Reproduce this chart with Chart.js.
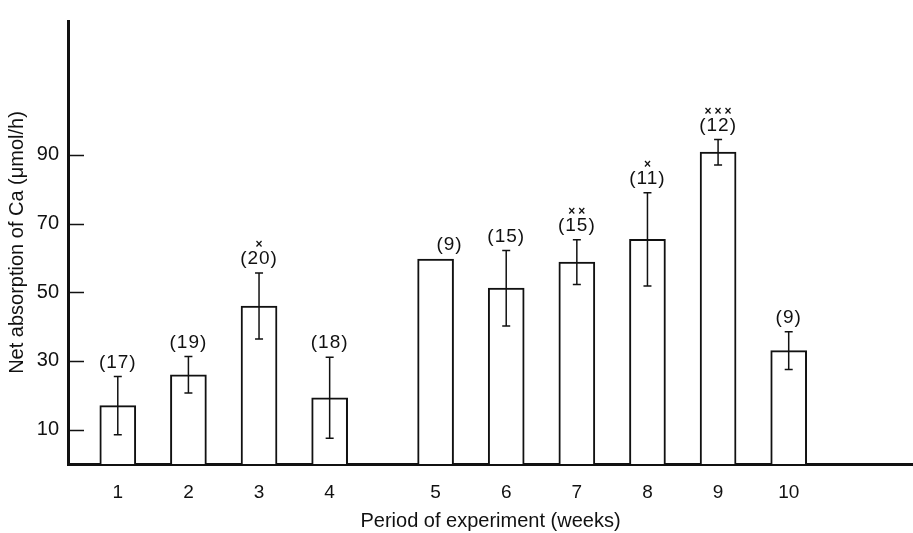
<!DOCTYPE html>
<html>
<head>
<meta charset="utf-8">
<script src="https://cdn.jsdelivr.net/npm/chart.js@4"></script>
<style>
  html, body { margin: 0; padding: 0; background: #fff; }
  #c { display: block; }
</style>
</head>
<body>
<canvas id="c" width="913" height="533"></canvas>
<script>
// ---- Data ----
const weeks = ['1', '2', '3', '4', '5', '6', '7', '8', '9', '10'];
const absorption = [17, 26, 46, 19.3, 59.7, 51.2, 58.8, 65.4, 90.8, 33];
const sem = [8.5, 5.3, 9.6, 11.8, 0, 11, 6.5, 13.6, 3.7, 5.5];
const nLabels = ['(17)', '(19)', '(20)', '(18)', '(9)', '(15)', '(15)', '(11)', '(12)', '(9)'];
const significance = ['', '', '×', '', '', '', '××', '×', '×××', ''];
const yTicks = [10, 30, 50, 70, 90];

// weeks 1-4 and 5-10 are separated by an extra half-slot gap
const xPos = weeks.map((w, i) => i < 4 ? i + 1 : i + 1.5);

const FONT = '"Liberation Sans", Arial, Helvetica, sans-serif';
const INK = '#111';

const annotPlugin = {
  id: 'annot',
  afterDatasetsDraw(chart) {
    const { ctx, scales: { y } } = chart;
    const meta = chart.getDatasetMeta(0);
    ctx.save();
    meta.data.forEach((bar, i) => {
      const cx = bar.x;
      const v = absorption[i], e = sem[i];
      let top = bar.y;
      if (e > 0) {
        const yt = y.getPixelForValue(v + e);
        const yb = y.getPixelForValue(v - e);
        ctx.strokeStyle = INK;
        ctx.lineWidth = 1.5;
        ctx.beginPath();
        ctx.moveTo(cx, yt); ctx.lineTo(cx, yb);
        ctx.moveTo(cx - 4, yt); ctx.lineTo(cx + 4, yt);
        ctx.moveTo(cx - 4, yb); ctx.lineTo(cx + 4, yb);
        ctx.stroke();
        top = yt;
      }
      const lx = e > 0 ? cx : cx + 14;
      ctx.fillStyle = INK;
      ctx.textAlign = 'center';
      ctx.textBaseline = 'middle';
      ctx.font = '19px ' + FONT;
      ctx.letterSpacing = '1px';
      const ly = top - 14;
      ctx.fillText(nLabels[i], lx, ly);
      ctx.letterSpacing = '0px';
      const s = significance[i];
      if (s) {
        ctx.font = 'bold 12px ' + FONT;
        const chars = Array.from(s);
        chars.forEach((ch, k) => {
          ctx.fillText(ch, lx + (k - (chars.length - 1) / 2) * 10, ly - 14);
        });
      }
    });
    ctx.restore();
  },
  afterDraw(chart) {
    const { ctx, chartArea, scales: { y } } = chart;
    ctx.save();
    ctx.strokeStyle = INK;
    ctx.lineWidth = 1.5;
    ctx.beginPath();
    yTicks.forEach(v => {
      const py = Math.round(y.getPixelForValue(v)) + 0.5;
      ctx.moveTo(chartArea.left, py);
      ctx.lineTo(chartArea.left + 16, py);
    });
    ctx.stroke();
    ctx.restore();
  }
};

new Chart(document.getElementById('c'), {
  type: 'bar',
  data: {
    datasets: [{
      data: weeks.map((w, i) => ({ x: xPos[i], y: absorption[i] })),
      backgroundColor: '#ffffff',
      borderColor: INK,
      borderWidth: 2,
      barThickness: 36
    }]
  },
  options: {
    responsive: false,
    devicePixelRatio: 1,
    animation: false,
    layout: { padding: { top: 7, right: 0, left: 0, bottom: 0 } },
    plugins: { legend: { display: false }, tooltip: { enabled: false } },
    scales: {
      x: {
        type: 'linear',
        offset: false,
        min: 0.295,
        max: 12.26,
        afterBuildTicks: (scale) => { scale.ticks = xPos.map(v => ({ value: v })); },
        afterFit: (scale) => { scale.height = 69; },
        grid: { display: true, offset: false, drawOnChartArea: false, drawTicks: false },
        border: { display: true, color: INK, width: 3 },
        ticks: {
          autoSkip: false,
          maxRotation: 0,
          padding: 17,
          color: INK,
          font: { family: FONT, size: 19 },
          callback: (value, index) => weeks[index]
        },
        title: {
          display: true,
          text: 'Period of experiment (weeks)',
          color: INK,
          font: { family: FONT, size: 20 },
          padding: { top: 0, bottom: 0 }
        }
      },
      y: {
        min: 0,
        max: 129,
        afterBuildTicks: (scale) => { scale.ticks = yTicks.map(v => ({ value: v })); },
        afterFit: (scale) => { scale.width = 68; },
        grid: { display: true, drawOnChartArea: false, drawTicks: false },
        border: { display: true, color: INK, width: 3 },
        ticks: {
          padding: 9,
          color: INK,
          font: { family: FONT, size: 20 }
        },
        title: {
          display: true,
          text: 'Net absorption of Ca (μmol/h)',
          color: INK,
          font: { family: FONT, size: 20 },
          padding: { top: 5, bottom: 0 }
        }
      }
    }
  },
  plugins: [annotPlugin]
});
</script>
</body>
</html>
